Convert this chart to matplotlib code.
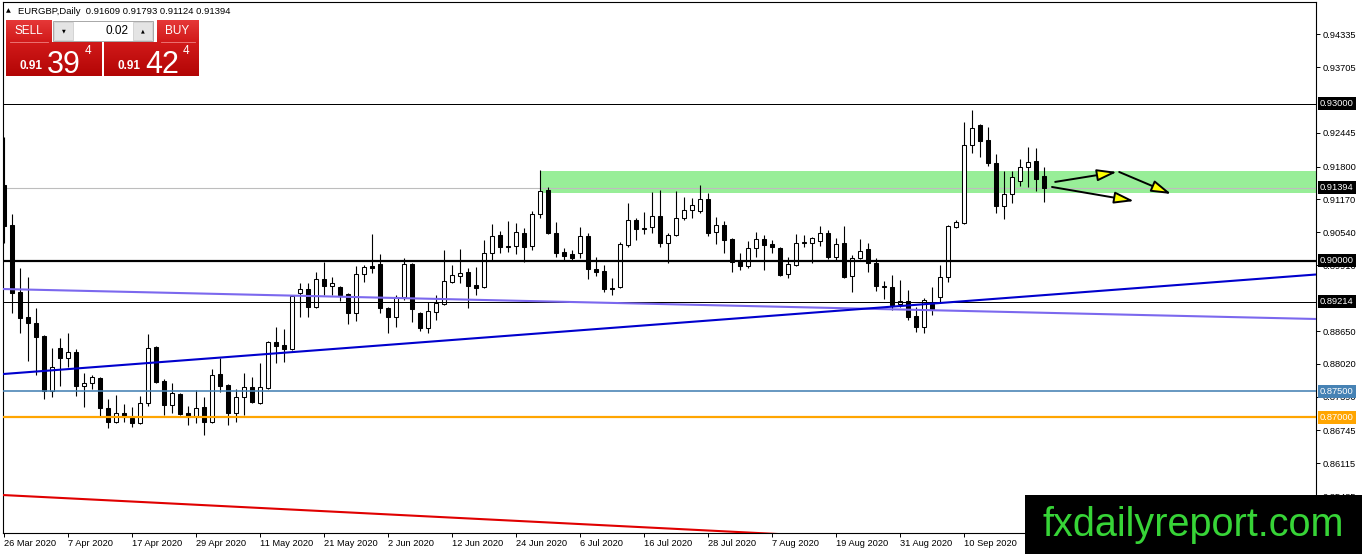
import numpy as np
import pandas as pd
import matplotlib
matplotlib.use("Agg")
import matplotlib.pyplot as plt
import matplotlib.transforms as mtransforms
from matplotlib.patches import Rectangle, FancyArrowPatch, ArrowStyle

plt.rcParams['font.family'] = ['Liberation Sans', 'DejaVu Sans']

# ---------------- data ----------------
symbol_title = "EURGBP,Daily"
last_ohlc = [0.91609, 0.91793, 0.91124, 0.91394]
start_date = "2020-03-26"

opens = [
    0.91446, 0.90680, 0.89397, 0.88918, 0.88803, 0.88554, 0.87501, 0.88324, 0.88133, 0.88248,
    0.87597, 0.87654, 0.87750, 0.87175, 0.86907, 0.87080, 0.86984, 0.86888, 0.87271, 0.88343,
    0.87692, 0.87233, 0.87443, 0.87080, 0.87003, 0.87195, 0.86907, 0.87826, 0.87616, 0.87080,
    0.87386, 0.87577, 0.87271, 0.87558, 0.88439, 0.88382, 0.88305, 0.89378, 0.89454, 0.89109,
    0.89646, 0.89512, 0.89492, 0.89358, 0.88995, 0.89741, 0.89895, 0.89933, 0.89090, 0.88918,
    0.89301, 0.89933, 0.88995, 0.88707, 0.89014, 0.89167, 0.89588, 0.89703, 0.89780, 0.89531,
    0.89492, 0.90144, 0.90488, 0.90259, 0.90278, 0.90527, 0.90278, 0.90890, 0.91350, 0.90527,
    0.90163, 0.90125, 0.90144, 0.90469, 0.89837, 0.89799, 0.89473, 0.89492, 0.90297, 0.90776,
    0.90603, 0.90642, 0.90852, 0.90335, 0.90488, 0.90814, 0.90967, 0.90948, 0.91178, 0.90546,
    0.90680, 0.90412, 0.89990, 0.89895, 0.90239, 0.90412, 0.90316, 0.90239, 0.89741, 0.89914,
    0.90335, 0.90335, 0.90373, 0.90527, 0.90067, 0.90335, 0.89703, 0.90048, 0.90220, 0.89952,
    0.89500, 0.89492, 0.89167, 0.89224, 0.88937, 0.88726, 0.89167, 0.89301, 0.89684, 0.90642,
    0.90718, 0.92212, 0.92595, 0.92308, 0.91867, 0.91044, 0.91273, 0.91522, 0.91791, 0.91905,
    0.91609]
highs = [
    0.92365, 0.90890, 0.89856, 0.89684, 0.89090, 0.88573, 0.88324, 0.88516, 0.88612, 0.88305,
    0.87846, 0.87807, 0.87769, 0.87348, 0.87424, 0.87252, 0.87195, 0.87405, 0.88592, 0.88362,
    0.87731, 0.87654, 0.87463, 0.87214, 0.87520, 0.87386, 0.87922, 0.88133, 0.87635, 0.87539,
    0.87846, 0.87769, 0.88037, 0.88458, 0.88726, 0.88688, 0.89339, 0.89569, 0.89569, 0.89780,
    0.89971, 0.89684, 0.89512, 0.89378, 0.89895, 0.89914, 0.90507, 0.90125, 0.89109, 0.89339,
    0.90048, 0.89952, 0.89014, 0.89205, 0.89339, 0.90201, 0.89914, 0.90220, 0.89856, 0.89876,
    0.90393, 0.90699, 0.90565, 0.90756, 0.90718, 0.90622, 0.90948, 0.91733, 0.91408, 0.90737,
    0.90239, 0.90201, 0.90642, 0.90527, 0.90067, 0.89914, 0.89665, 0.90354, 0.91101, 0.90814,
    0.90929, 0.91312, 0.91350, 0.90527, 0.91331, 0.91216, 0.91197, 0.91446, 0.91293, 0.90833,
    0.90756, 0.90431, 0.90144, 0.90373, 0.90546, 0.90488, 0.90393, 0.90259, 0.90067, 0.90507,
    0.90488, 0.90450, 0.90661, 0.90584, 0.90431, 0.90661, 0.90105, 0.90412, 0.90335, 0.90048,
    0.89607, 0.89722, 0.89627, 0.89435, 0.89109, 0.89282, 0.89492, 0.89914, 0.90680, 0.90776,
    0.92652, 0.92882, 0.92614, 0.92557, 0.92039, 0.91714, 0.91714, 0.91944, 0.92174, 0.92154,
    0.91793]
lows = [
    0.90335, 0.88995, 0.88612, 0.88075, 0.87807, 0.87348, 0.87386, 0.87597, 0.87960, 0.87405,
    0.87195, 0.87539, 0.87003, 0.86792, 0.86888, 0.86907, 0.86812, 0.86870, 0.87214, 0.87654,
    0.87041, 0.87080, 0.87041, 0.86850, 0.86888, 0.86658, 0.86888, 0.87482, 0.86850, 0.86907,
    0.87041, 0.87271, 0.87252, 0.87539, 0.88037, 0.88056, 0.88286, 0.88918, 0.88918, 0.89090,
    0.89339, 0.89339, 0.89224, 0.88784, 0.88841, 0.89588, 0.89761, 0.88995, 0.88612, 0.88726,
    0.89244, 0.88822, 0.88650, 0.88612, 0.88861, 0.89148, 0.89569, 0.89569, 0.89090, 0.89339,
    0.89473, 0.90010, 0.90144, 0.90163, 0.90125, 0.89971, 0.90201, 0.90814, 0.90508, 0.90067,
    0.90010, 0.90010, 0.90048, 0.89646, 0.89703, 0.89397, 0.89339, 0.89473, 0.90259, 0.90393,
    0.90507, 0.90527, 0.90259, 0.89952, 0.90470, 0.90776, 0.90814, 0.90910, 0.90469, 0.90316,
    0.90144, 0.89780, 0.89818, 0.89856, 0.90067, 0.89818, 0.90144, 0.89703, 0.89665, 0.89895,
    0.90259, 0.89952, 0.90278, 0.90029, 0.90010, 0.89665, 0.89397, 0.90029, 0.89780, 0.89416,
    0.89263, 0.89052, 0.89109, 0.88861, 0.88631, 0.88612, 0.88956, 0.89205, 0.89588, 0.90622,
    0.90700, 0.92059, 0.91982, 0.91810, 0.90910, 0.90795, 0.91101, 0.91427, 0.91408, 0.91331,
    0.91124]
closes = [
    0.90661, 0.89378, 0.88899, 0.88803, 0.88535, 0.87501, 0.87960, 0.88133, 0.88248, 0.87597,
    0.87654, 0.87769, 0.87175, 0.86907, 0.87080, 0.87003, 0.86888, 0.87271, 0.88324, 0.87673,
    0.87233, 0.87463, 0.87061, 0.87003, 0.87175, 0.86907, 0.87807, 0.87597, 0.87080, 0.87386,
    0.87577, 0.87290, 0.87577, 0.88439, 0.88363, 0.88305, 0.89320, 0.89454, 0.89109, 0.89646,
    0.89512, 0.89569, 0.89339, 0.88995, 0.89741, 0.89876, 0.89856, 0.89090, 0.88918, 0.89301,
    0.89933, 0.89071, 0.88707, 0.89033, 0.89186, 0.89607, 0.89722, 0.89761, 0.89512, 0.89473,
    0.90144, 0.90469, 0.90259, 0.90278, 0.90546, 0.90259, 0.90890, 0.91331, 0.90527, 0.90144,
    0.90086, 0.90048, 0.90469, 0.89837, 0.89780, 0.89454, 0.89445, 0.90316, 0.90776, 0.90603,
    0.90622, 0.90852, 0.90335, 0.90488, 0.90814, 0.90967, 0.91063, 0.91178, 0.90527, 0.90680,
    0.90393, 0.89971, 0.89895, 0.90239, 0.90412, 0.90297, 0.90259, 0.89722, 0.89933, 0.90335,
    0.90354, 0.90431, 0.90527, 0.90067, 0.90316, 0.89684, 0.90048, 0.90182, 0.89952, 0.89512,
    0.89512, 0.89148, 0.89224, 0.88918, 0.88726, 0.89244, 0.89071, 0.89684, 0.90661, 0.90737,
    0.92212, 0.92537, 0.92288, 0.91867, 0.91044, 0.91273, 0.91599, 0.91791, 0.91886, 0.91561,
    0.91394]

# visible right-axis price ticks (those hidden under the level boxes are omitted)
price_ticks = [0.94335, 0.93705, 0.92445, 0.91800, 0.91170, 0.90540, 0.89910,
               0.88650, 0.88020, 0.87390, 0.86745, 0.86115, 0.85485]

# horizontal levels: (price, colour, width px)
hlines_levels = [0.93000, 0.90000, 0.89214, 0.87500, 0.87000]
hlines_colors = ['black', 'black', 'black', '#4682B4', '#FFA500']
hlines_widths = [1.0, 2.2, 1.0, 1.6, 2.2]
bid_price = 0.91394

# price boxes on the right axis
box_prices = [0.93000, 0.91394, 0.90000, 0.89214, 0.87500, 0.87000]
box_colors = ['black', 'black', 'black', 'black', '#4682B4', '#FFA500']

# green zone (start bar, low, high)
zone_start = 67
zone_low, zone_high = 0.91288, 0.91714

# trend lines: (bar0, price0, bar1, price1)
trend_purple = (-0.125, 0.89454, 164.0, 0.88880)
trend_blue = (-0.125, 0.87826, 164.0, 0.89732)
trend_red = (-0.125, 0.85509, 164.0, 0.84244)

# arrows (bar0, price0, bar1, price1)
arrows = [(131.4, 0.91505, 139.1, 0.91695),
          (139.4, 0.91695, 145.9, 0.91274),
          (131.0, 0.91408, 141.25, 0.91139)]

# ---------------- figure ----------------
W, H = 1362, 554
fig = plt.figure(figsize=(W / 100, H / 100), dpi=100)
fig.patch.set_facecolor('white')

ax = fig.add_axes([3 / W, 21 / H, 1313 / W, 531 / H])
ax.set_facecolor('white')

o = np.array(opens); h = np.array(highs); l = np.array(lows); c = np.array(closes)
n = len(o)
x = np.arange(n)
dates = pd.bdate_range(start_date, periods=n)

# green zone
ax.add_patch(Rectangle((zone_start, zone_low), 200, zone_high - zone_low,
                       facecolor='#98EE98', edgecolor='none', zorder=1))
# bid line
ax.axhline(bid_price, color='#BDBDBD', lw=0.8, zorder=1.5)

# candles
up = c > o
ax.vlines(x, l, h, color='black', lw=0.8, zorder=3)
body_bot = np.minimum(o, c)
body_h = np.maximum(np.abs(c - o), 0.00001)
ax.bar(x, body_h, bottom=body_bot, width=0.56,
       color=np.where(up, 'white', 'black'), edgecolor='black', linewidth=0.75, zorder=4)

# horizontal levels
for p, col, wpx in zip(hlines_levels, hlines_colors, hlines_widths):
    ax.axhline(p, color=col, lw=wpx * 0.72, zorder=5)

# trend lines
for tl, col in [(trend_purple, '#7B68EE'), (trend_blue, '#0000CD'), (trend_red, '#E00000')]:
    ax.plot([tl[0], tl[2]], [tl[1], tl[3]], color=col, lw=1.5, zorder=5, solid_capstyle='butt')

# arrows
for a in arrows:
    arr = FancyArrowPatch((a[0], a[1]), (a[2], a[3]),
                          arrowstyle=ArrowStyle('-|>', head_length=12, head_width=3.6),
                          mutation_scale=1, shrinkA=0, shrinkB=0,
                          facecolor='#FFFF00', edgecolor='black', lw=1.4, zorder=6)
    ax.add_patch(arr)

ax.set_xlim(-0.125, 164.0)
ax.set_ylim(0.84782, 0.94950)

# axes styling
for sp in ax.spines.values():
    sp.set_color('black')
    sp.set_linewidth(0.8)
ax.yaxis.tick_right()
ax.set_yticks(price_ticks)
ax.set_yticklabels([f"{p:.5f}" for p in price_ticks])
ax.tick_params(axis='y', length=3, width=0.7, pad=2, labelsize=6.7, colors='black')

tick_idx = list(range(0, 121, 8))
ax.set_xticks(tick_idx)
ax.set_xticklabels([f"{dates[i].day} {dates[i].strftime('%b %Y')}" for i in tick_idx])
ax.tick_params(axis='x', length=3, width=0.7, pad=1.5, labelsize=6.7, colors='black')
for lab in ax.get_xticklabels():
    lab.set_horizontalalignment('left')

# right side price boxes
trans = mtransforms.blended_transform_factory(ax.transAxes, ax.transData)
for p, col in zip(box_prices, box_colors):
    ax.text(1.0 + 4 / 1313, p, f"{p:.5f}", transform=trans, ha='left', va='center',
            fontsize=6.7, color='white', zorder=20, clip_on=False,
            bbox=dict(boxstyle='square,pad=0.22', facecolor=col, edgecolor='none'))

# ---------------- overlay (UI) ----------------
ui = fig.add_axes([0, 0, 1, 1], zorder=10)
ui.patch.set_alpha(0)
ui.axis('off')


def gradient(x0, x1, y0, y1, ctop, cbot):
    g = np.linspace(0, 1, 64)[:, None, None]
    img = np.array(ctop)[None, None, :] * (1 - g) + np.array(cbot)[None, None, :] * g
    img = np.repeat(img, 2, axis=1)
    ui.imshow(img, extent=(x0, x1, y1, y0), aspect='auto', interpolation='bilinear', zorder=1)


ui.text(8, 11, '\u25B2', fontsize=4.5, ha='center', va='center', color='black',
        family=['DejaVu Sans'])
ui.text(18, 11, f"{symbol_title}  " + " ".join(f"{v:.5f}" for v in last_ohlc),
        fontsize=6.8, ha='left', va='center', color='black')

red_top = (0.90, 0.22, 0.22)
red_mid = (0.82, 0.10, 0.10)
red_bot = (0.70, 0.02, 0.02)
# SELL header and price box
gradient(6, 52, 20, 42, red_top, red_mid)
gradient(6, 102, 42, 76, red_mid, red_bot)
# BUY header and price box
gradient(157, 199, 20, 42, red_top, red_mid)
gradient(104, 199, 42, 76, red_mid, red_bot)
ui.plot([10, 48], [41.5, 41.5], color='#F08080', lw=0.6, zorder=2)
ui.plot([161, 195], [41.5, 41.5], color='#F08080', lw=0.6, zorder=2)

ui.text(29, 31, 'SELL', fontsize=8.5, color='white', ha='center', va='center', zorder=3)
ui.text(177, 31, 'BUY', fontsize=8.5, color='white', ha='center', va='center', zorder=3)

# lot spin box
ui.add_patch(Rectangle((53, 21), 100, 20, facecolor='white', edgecolor='#A8A8A8', lw=0.7, zorder=2))
ui.add_patch(Rectangle((54, 22), 19, 18, facecolor='#E4E4E4', edgecolor='#C8C8C8', lw=0.5, zorder=3))
ui.add_patch(Rectangle((133, 22), 19, 18, facecolor='#E4E4E4', edgecolor='#C8C8C8', lw=0.5, zorder=3))
ui.text(63.5, 31, '\u25BC', fontsize=3.5, ha='center', va='center', color='black',
        family=['DejaVu Sans'], zorder=4)
ui.text(142.5, 31, '\u25B2', fontsize=3.5, ha='center', va='center', color='black',
        family=['DejaVu Sans'], zorder=4)
ui.text(128, 31, '0.02', fontsize=8.5, ha='right', va='center', color='black', zorder=4)

# bid / ask numbers
for xb, big in [(20, '39'), (118, '42')]:
    ui.text(xb, 66, '0.91', fontsize=8.5, fontweight='bold', color='white', ha='left',
            va='center', zorder=3)
    ui.text(xb + 27, 73, big, fontsize=22, color='white', ha='left', va='baseline', zorder=3)
    ui.text(xb + 65, 51, '4', fontsize=8.5, color='white', ha='left', va='center', zorder=3)

# watermark
ui.add_patch(Rectangle((1025, 495), 340, 62, facecolor='black', edgecolor='none', zorder=5))
ui.text(1193, 536, 'fxdailyreport.com', fontsize=28.5, color='#37D437', ha='center',
        va='baseline', zorder=6)

ui.set_xlim(0, W)
ui.set_ylim(H, 0)

fig.savefig('out.png', dpi=100, facecolor='white')
